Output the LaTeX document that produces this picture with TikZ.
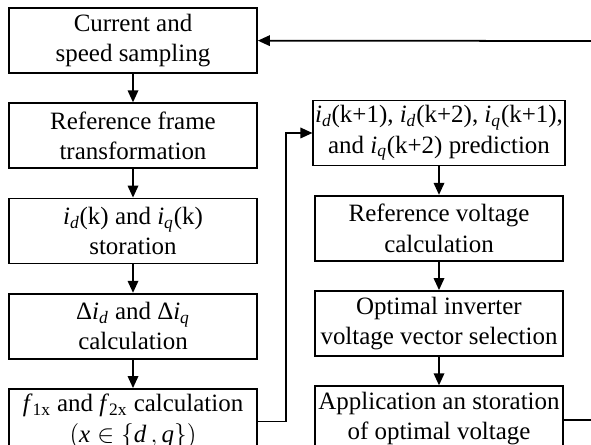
\documentclass[tikz,border=0pt]{standalone}
\usepackage{fontspec}
\setmainfont{Liberation Serif}
\usetikzlibrary{positioning,arrows.meta}

\newcommand{\cur}[1]{\textit{i}\textsubscript{\textit{#1}}}

\begin{document}
\begin{tikzpicture}[x=0.02cm,y=-0.02cm,
 node distance=0.57cm,
 blk/.style={draw,line width=1pt,minimum width=4.96cm,minimum height=1.3cm,
  align=center,inner sep=1pt,font=\fontsize{14.2}{17.2}\selectfont},
 flow/.style={-{Triangle[length=2.4mm,width=2.1mm]},line width=1pt}]

\useasboundingbox (0,0) rectangle (591,445);

% left column
\node[blk] (samp) at (133,40.5) {Current and\\speed sampling};
\node[blk,below=of samp] (trans) {Reference frame\\transformation};
\node[blk,below=of trans] (stor) {\cur{d}(k) and \cur{q}(k)\\storation};
\node[blk,below=of stor] (delta) {Δ\cur{d} and Δ\cur{q}\\calculation};
\node[blk,below=of delta] (fcal) {\textit{f}\textsubscript{1x} and \textit{f}\textsubscript{2x} calculation\\$\bigl(\textit{x}\in\{\textit{d}\,,\textit{q}\}\bigr)$};

% right column
\node[blk] (pred) at (439,133) {\cur{d}(k+1), \cur{d}(k+2), \cur{q}(k+1),\\and \cur{q}(k+2) prediction};
\node[blk,below=of pred] (vref) {Reference voltage\\calculation};
\node[blk,below=of vref] (sel) {Optimal inverter\\voltage vector selection};
\node[blk,below=of sel] (app) {Application an storation\\of optimal voltage};

\foreach \a/\b in {samp/trans,trans/stor,stor/delta,delta/fcal,pred/vref,vref/sel,sel/app}
 \draw[flow] (\a) -- (\b);

% loop
\draw[flow] (fcal.east) -- ++(28,0) |- (pred.west);
\coordinate (inR) at (591,41);
\coordinate (outR) at (591,420);
\draw[flow] (inR) -- (samp);
\draw[line width=1pt] (app.east |- outR) -- (outR);

\end{tikzpicture}
\end{document}
